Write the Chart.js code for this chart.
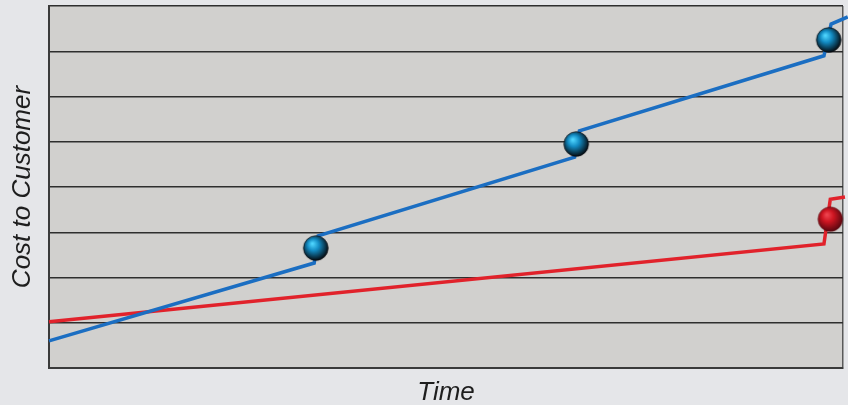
<!DOCTYPE html>
<html>
<head>
<meta charset="utf-8">
<script src="https://cdn.jsdelivr.net/npm/chart.js@4/dist/chart.umd.min.js"></script>
<style>
  html, body { margin: 0; padding: 0; background: #e5e6e9; }
  #wrap { width: 848px; height: 405px; }
</style>
</head>
<body>
<div id="wrap"><canvas id="c" width="848" height="405"></canvas></div>
<script>
// Price path for the two offerings over time (relative units)
const blueTime = [0, 33.4, 33.9, 66.2, 66.8, 97.6, 98.5, 100.6];
const blueCost = [0.60, 2.32, 2.92, 4.66, 5.24, 6.90, 7.60, 7.76];
const redTime  = [0, 97.6, 98.4, 100.25];
const redCost  = [1.02, 2.74, 3.73, 3.78];

// Highlighted moments on each path
const blueMarkTime = [33.6, 66.4, 98.2];
const blueMarkCost = [2.65, 4.95, 7.25];
const redMarkTime  = [98.4];
const redMarkCost  = [3.29];

const yTicks = [0, 1, 2, 3, 4, 5, 6, 7, 8];

const xTitle = 'Time';
const yTitle = 'Cost to Customer';

function pairs(xs, ys) { return xs.map((x, i) => ({ x: x, y: ys[i] })); }

// Shaded sphere used as the point style
function ball(light, mid, dark, edge) {
  const s = 28, r = 12.3;
  const cv = document.createElement('canvas');
  cv.width = s; cv.height = s;
  const g = cv.getContext('2d');
  const grad = g.createRadialGradient(s / 2 - 3.5, s / 2 - 4.5, 0.5, s / 2 - 1, s / 2 - 1.5, r + 1.5);
  grad.addColorStop(0, light);
  grad.addColorStop(0.4, mid);
  grad.addColorStop(1, dark);
  g.beginPath();
  g.arc(s / 2, s / 2, r, 0, Math.PI * 2);
  g.fillStyle = grad;
  g.fill();
  g.lineWidth = 0.8;
  g.strokeStyle = edge;
  g.stroke();
  return cv;
}

const blueBall = ball('#4fd6ff', '#138bc3', '#050c12', 'rgba(5,10,15,0.9)');
const redBall  = ball('#ee4550', '#cf1622', '#5a0710', 'rgba(90,10,15,0.6)');

const plotBg = {
  id: 'plotBg',
  beforeDraw(chart) {
    const { ctx, chartArea: a } = chart;
    ctx.save();
    ctx.fillStyle = '#d1d0ce';
    ctx.fillRect(a.left, a.top, a.right - a.left, a.bottom - a.top);
    ctx.restore();
  }
};

const titleFont = { family: '"Liberation Sans", Arial, sans-serif', size: 26, style: 'italic', lineHeight: 0.92 };

new Chart(document.getElementById('c'), {
  type: 'scatter',
  data: {
    datasets: [
      { data: pairs(blueMarkTime, blueMarkCost), pointStyle: blueBall, pointRadius: 12, order: 0, clip: false },
      { data: pairs(redMarkTime, redMarkCost), pointStyle: redBall, pointRadius: 12, order: 0, clip: false },
      { data: pairs(blueTime, blueCost), showLine: true, borderColor: '#1b6ec2', borderWidth: 3.5,
        pointRadius: 0, order: 1, clip: false, borderCapStyle: 'butt', borderJoinStyle: 'miter' },
      { data: pairs(redTime, redCost), showLine: true, borderColor: '#e1222b', borderWidth: 3.5,
        pointRadius: 0, order: 1, clip: false, borderCapStyle: 'butt', borderJoinStyle: 'miter' }
    ]
  },
  options: {
    responsive: false,
    animation: false,
    events: [],
    layout: { autoPadding: false, padding: { top: 6, right: 5, left: 0, bottom: 0 } },
    plugins: { legend: { display: false }, tooltip: { enabled: false } },
    scales: {
      x: {
        type: 'linear', min: 0, max: 100,
        ticks: { display: false, stepSize: 100 },
        grid: { color: '#5a5a5a', lineWidth: 1.5, drawTicks: false },
        border: { color: '#3a3a3a', width: 2 },
        title: { display: true, text: xTitle, color: '#1e1e1e', font: titleFont, padding: { top: 0, bottom: 0 } },
        afterFit(scale) { scale.height = 37; }
      },
      y: {
        type: 'linear', min: 0, max: 8,
        afterBuildTicks(scale) { scale.ticks = yTicks.map(v => ({ value: v })); },
        ticks: { display: false },
        grid: { color: '#2e2e2e', lineWidth: 1.4, drawTicks: false },
        border: { color: '#3a3a3a', width: 2 },
        title: { display: true, text: yTitle, color: '#1e1e1e', font: titleFont, padding: { top: 11, bottom: 0 } },
        afterFit(scale) { scale.width = 49; }
      }
    }
  },
  plugins: [plotBg]
});
</script>
</body>
</html>
